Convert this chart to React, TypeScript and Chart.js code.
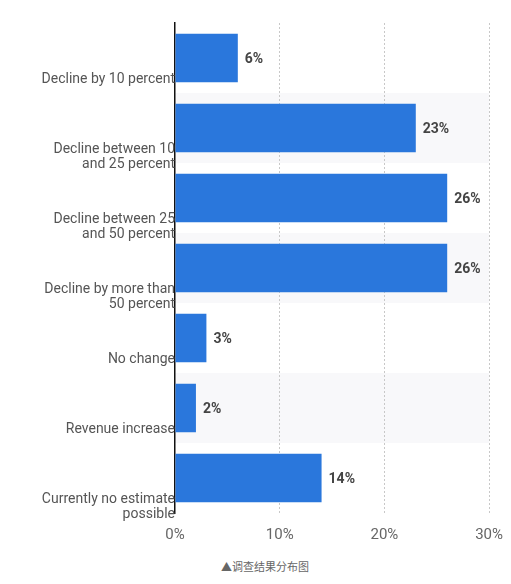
import React, { useEffect, useRef } from "react";
import { Chart, registerables } from "chart.js";

Chart.register(...registerables);

const categories: string[][] = [
  ["Decline by 10 percent"],
  ["Decline between 10", "and 25 percent"],
  ["Decline between 25", "and 50 percent"],
  ["Decline by more than", "50 percent"],
  ["No change"],
  ["Revenue increase"],
  ["Currently no estimate", "possible"],
];
const values: number[] = [6, 23, 26, 26, 3, 2, 14];
const xTicks: number[] = [0, 10, 20, 30];
const caption = "▲调查结果分布图";

const FONT = "Roboto, 'Noto Sans', sans-serif";

const bandPlugin = {
  id: "bands",
  beforeDraw(chart: any) {
    const { ctx, chartArea, scales } = chart;
    const y = scales.y;
    const band = (chartArea.bottom - chartArea.top) / categories.length;
    ctx.save();
    ctx.fillStyle = "#f8f8fa";
    categories.forEach((_, i) => {
      if (i % 2 === 1) {
        const c = y.getPixelForValue(i);
        ctx.fillRect(chartArea.left, c - band / 2, chartArea.right - chartArea.left, band);
      }
    });
    ctx.restore();
  },
};

const valueLabelPlugin = {
  id: "valueLabels",
  afterDatasetsDraw(chart: any) {
    const { ctx } = chart;
    const meta = chart.getDatasetMeta(0);
    ctx.save();
    ctx.font = `bold 14px ${FONT}`;
    ctx.fillStyle = "#444";
    ctx.textAlign = "left";
    ctx.textBaseline = "middle";
    meta.data.forEach((bar: any, i: number) => {
      ctx.fillText(`${values[i]}%`, bar.x + 7, bar.y + 1);
    });
    ctx.restore();
  },
};

export default function App() {
  const ref = useRef<HTMLCanvasElement>(null);
  useEffect(() => {
    if (!ref.current) return;
    const chart = new Chart(ref.current, {
      type: "bar",
      data: {
        labels: categories.map((c) => c.join(" ")),
        datasets: [
          {
            data: values,
            backgroundColor: "#2a77dc",
            borderWidth: 0,
            barPercentage: 0.69,
            categoryPercentage: 1,
          },
        ],
      },
      options: {
        indexAxis: "y",
        animation: false,
        responsive: true,
        maintainAspectRatio: false,
        layout: { padding: { top: 15, bottom: 10, left: 0, right: 0 } },
        plugins: { legend: { display: false }, tooltip: { enabled: false } },
        scales: {
          x: {
            min: 0,
            max: 30,
            afterBuildTicks: (scale: any) => {
              scale.ticks = xTicks.map((v) => ({ value: v }));
            },
            afterFit: (scale: any) => {
              scale.height = 30;
            },
            ticks: {
              callback: (v: any) => `${v}%`,
              color: "#666",
              font: { family: FONT, size: 15 },
              padding: 13,
              maxRotation: 0,
            },
            grid: {
              drawTicks: false,
              color: (c: any) => (c.tick && c.tick.value === 0 ? "rgba(0,0,0,0)" : "#c8c8c8"),
              lineWidth: 1,
            },
            border: { display: false, dash: [2, 2] },
          },
          y: {
            afterFit: (scale: any) => {
              scale.width = 167;
            },
            ticks: {
              callback: (_v: any, i: number) => {
                const l = categories[i];
                return l.length === 1 ? [l[0], ""] : l;
              },
              color: "#555",
              font: { family: FONT, size: 14, lineHeight: 15 / 14 },
              padding: 0,
              labelOffset: 29,
              autoSkip: false,
            },
            grid: { display: false, drawTicks: false },
            border: { display: true, color: "#111", width: 1.5 },
          },
        },
      },
      plugins: [bandPlugin, valueLabelPlugin],
    });
    return () => chart.destroy();
  }, []);

  return (
    <div style={{ width: 508, fontFamily: FONT }}>
      <div style={{ position: "relative", width: 508, height: 545 }}>
        <canvas ref={ref} />
      </div>
      <div
        style={{
          marginTop: 6,
          marginLeft: 213,
          fontSize: 11,
          lineHeight: "14px",
          color: "#666",
          fontFamily: "'Noto Sans CJK SC', " + FONT,
        }}
      >
        {caption}
      </div>
    </div>
  );
}
